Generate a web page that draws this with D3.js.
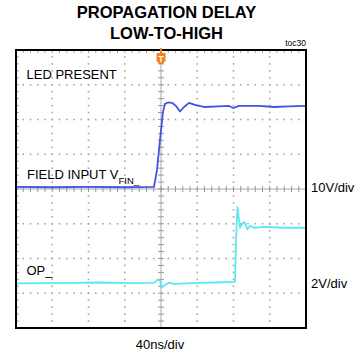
<!DOCTYPE html>
<html>
<head>
<meta charset="utf-8">
<script src="https://cdn.jsdelivr.net/npm/d3@7"></script>
<style>
  body { margin: 0; background: #fff; }
  svg { display: block; }
  text { font-family: "Liberation Sans", Arial, sans-serif; fill: #000; }
  .title { font-family: "Liberation Sans Narrow", "Arial Narrow", "Liberation Sans", sans-serif; font-weight: bold; font-size: 16.5px; }
</style>
</head>
<body>
<script>
// chart size and screen frame
var svgWidth = 362;
var svgHeight = 358;
var frame = {left: 16, right: 306, top: 50, bottom: 328};

// time axis (ns), 40ns/div, trigger at 0
var timeDomain = [-160, 160];
var divsX = 8, divsY = 8, minorPerDiv = 5;

// channel settings: volts per division and ground position (divisions from centre)
var blueVoltsPerDiv = 10, bluePos = 0.03;
var cyanVoltsPerDiv = 2, cyanPos = -2.7;

// FIELD INPUT VFIN_ trace (ns, V)
var fieldTime = [-160, -120, -80, -40, -7.7, -4.4, -1.1, 2.2, 4.4, 7.7, 12.1, 16.6, 21, 25.4, 30.9, 37.5, 47.4, 64, 75, 80.1, 86, 108, 125, 141, 160];
var fieldVolts = [0.3, 0.2, 0.3, 0.2, 0.3, 5.2, 13.8, 21.9, 24.2, 24.6, 24.5, 23.6, 22.0, 23.3, 24.5, 23.9, 23.3, 23.5, 23.6, 23.0, 23.6, 23.6, 23.3, 23.5, 23.6];

// OP_ trace (ns, V)
var opTime = [-160, -100, -68, -30, -7.7, -3.9, -1.1, 1.1, 4.4, 8.8, 14.3, 41.9, 60, 81.6, 82.8, 84.4, 87.1, 89.4, 92.1, 95.4, 98.2, 102.6, 113.6, 135.7, 160];
var opVolts = [-0.03, 0, 0.02, -0.02, 0, 0.17, 0.12, -0.26, -0.12, 0, -0.06, 0, 0.02, 0.06, 2.48, 4.37, 3.17, 3.4, 3.51, 3.08, 3.28, 3.17, 3.22, 3.17, 3.17];

var svg = d3.select("body").append("svg")
  .attr("width", svgWidth)
  .attr("height", svgHeight);

// scales
var xScale = d3.scaleLinear().domain(timeDomain).range([frame.left, frame.right]);
var divScale = d3.scaleLinear().domain([-divsY / 2, divsY / 2]).range([frame.bottom, frame.top]);
var xDivScale = d3.scaleLinear().domain([-divsX / 2, divsX / 2]).range([frame.left, frame.right]);
var yBlue = d3.scaleLinear()
  .domain([(-divsY / 2 - bluePos) * blueVoltsPerDiv, (divsY / 2 - bluePos) * blueVoltsPerDiv])
  .range([frame.bottom, frame.top]);
var yCyan = d3.scaleLinear()
  .domain([(-divsY / 2 - cyanPos) * cyanVoltsPerDiv, (divsY / 2 - cyanPos) * cyanVoltsPerDiv])
  .range([frame.bottom, frame.top]);

// titles
svg.append("text").attr("class", "title").attr("x", 166.5).attr("y", 17.5)
  .attr("text-anchor", "middle").text("PROPAGATION DELAY");
svg.append("text").attr("class", "title").attr("x", 166.5).attr("y", 38.5)
  .attr("text-anchor", "middle").text("LOW-TO-HIGH");
svg.append("text").attr("x", 306).attr("y", 46).attr("text-anchor", "end")
  .style("font-size", "8.5px").text("toc30");

// grid dots
var gridG = svg.append("g");
var minorX = d3.range(-divsX / 2 * minorPerDiv, divsX / 2 * minorPerDiv + 1).map(d => d / minorPerDiv);
var minorY = d3.range(-divsY / 2 * minorPerDiv, divsY / 2 * minorPerDiv + 1).map(d => d / minorPerDiv);
var majorX = d3.range(-divsX / 2 + 1, divsX / 2).filter(d => d !== 0);
var majorY = d3.range(-divsY / 2 + 1, divsY / 2).filter(d => d !== 0);

var dots = [];
majorX.forEach(function(mx) {
  minorY.forEach(function(my) { dots.push([mx, my]); });
});
majorY.forEach(function(my) {
  minorX.forEach(function(mx) { dots.push([mx, my]); });
});
gridG.selectAll("rect.dot").data(dots).enter().append("rect")
  .attr("class", "dot")
  .attr("x", d => xDivScale(d[0]) - 0.8)
  .attr("y", d => divScale(d[1]) - 0.8)
  .attr("width", 1.6).attr("height", 1.6)
  .attr("fill", "#a6a6a6");

// centre crosshair with minor ticks
gridG.append("line")
  .attr("x1", xDivScale(0)).attr("x2", xDivScale(0))
  .attr("y1", frame.top).attr("y2", frame.bottom)
  .attr("stroke", "#aaaaaa").attr("stroke-width", 1);
gridG.append("line")
  .attr("x1", frame.left).attr("x2", frame.right)
  .attr("y1", divScale(0)).attr("y2", divScale(0))
  .attr("stroke", "#aaaaaa").attr("stroke-width", 1);
gridG.selectAll("line.ty").data(minorY).enter().append("line")
  .attr("class", "ty")
  .attr("x1", xDivScale(0) - 3).attr("x2", xDivScale(0) + 3)
  .attr("y1", d => divScale(d)).attr("y2", d => divScale(d))
  .attr("stroke", "#999").attr("stroke-width", 1);
gridG.selectAll("line.tx").data(minorX).enter().append("line")
  .attr("class", "tx")
  .attr("x1", d => xDivScale(d)).attr("x2", d => xDivScale(d))
  .attr("y1", divScale(0) - 3).attr("y2", divScale(0) + 3)
  .attr("stroke", "#999").attr("stroke-width", 1);

// border ticks on frame edges
gridG.selectAll("rect.bt").data(minorX).enter().append("rect")
  .attr("x", d => xDivScale(d) - 0.5).attr("y", frame.top + 1)
  .attr("width", 1).attr("height", 2).attr("fill", "#a6a6a6");
gridG.selectAll("rect.bl").data(minorY).enter().append("rect")
  .attr("x", frame.left + 1).attr("y", d => divScale(d) - 0.5)
  .attr("width", 2).attr("height", 1).attr("fill", "#a6a6a6");

// traces
var blueLine = d3.line()
  .x((d, i) => xScale(fieldTime[i]))
  .y(d => yBlue(d));
var cyanLine = d3.line()
  .x((d, i) => xScale(opTime[i]))
  .y(d => yCyan(d));

svg.append("path")
  .attr("d", blueLine(fieldVolts))
  .attr("fill", "none").attr("stroke", "#4152e6").attr("stroke-width", 1.8)
  .attr("stroke-linejoin", "round");
svg.append("path")
  .attr("d", cyanLine(opVolts))
  .attr("fill", "none").attr("stroke", "#5ce8f2").attr("stroke-width", 1.8)
  .attr("stroke-linejoin", "round");

// frame
svg.append("rect")
  .attr("x", frame.left).attr("y", frame.top)
  .attr("width", frame.right - frame.left).attr("height", frame.bottom - frame.top)
  .attr("fill", "none").attr("stroke", "#000").attr("stroke-width", 2);

// trigger marker
var tx = xScale(0);
var trig = svg.append("g").attr("transform", `translate(${tx},${frame.top})`);
trig.append("line").attr("x1", 0).attr("x2", 0).attr("y1", -2).attr("y2", 3)
  .attr("stroke", "#f5821f").attr("stroke-width", 2);
trig.append("path")
  .attr("d", "M-4.5,3 H4.5 V11 L1.5,14 H-1.5 L-4.5,11 Z")
  .attr("fill", "#f5821f");
trig.append("text").attr("x", 0).attr("y", 11.5).attr("text-anchor", "middle")
  .style("font-size", "9px").style("font-weight", "bold").style("fill", "#fff").text("T");

// trace labels
svg.append("text").attr("x", 26.5).attr("y", 78.5).style("font-size", "13px").text("LED PRESENT");
var fl = svg.append("text").attr("x", 27).attr("y", 178.5).style("font-size", "13px");
fl.append("tspan").text("FIELD INPUT V");
fl.append("tspan").attr("dy", 5).style("font-size", "9.5px").text("FIN_");
svg.append("text").attr("x", 26.5).attr("y", 275).style("font-size", "13px").text("OP_");

// channel scale labels
svg.append("text").attr("x", 311).attr("y", yBlue(0) + 4.5).style("font-size", "13px").text(blueVoltsPerDiv + "V/div");
svg.append("text").attr("x", 311).attr("y", yCyan(0) + 5).style("font-size", "13px").text(cyanVoltsPerDiv + "V/div");
svg.append("text").attr("x", 160).attr("y", 349).attr("text-anchor", "middle").style("font-size", "13px").text("40ns/div");
</script>
</body>
</html>
